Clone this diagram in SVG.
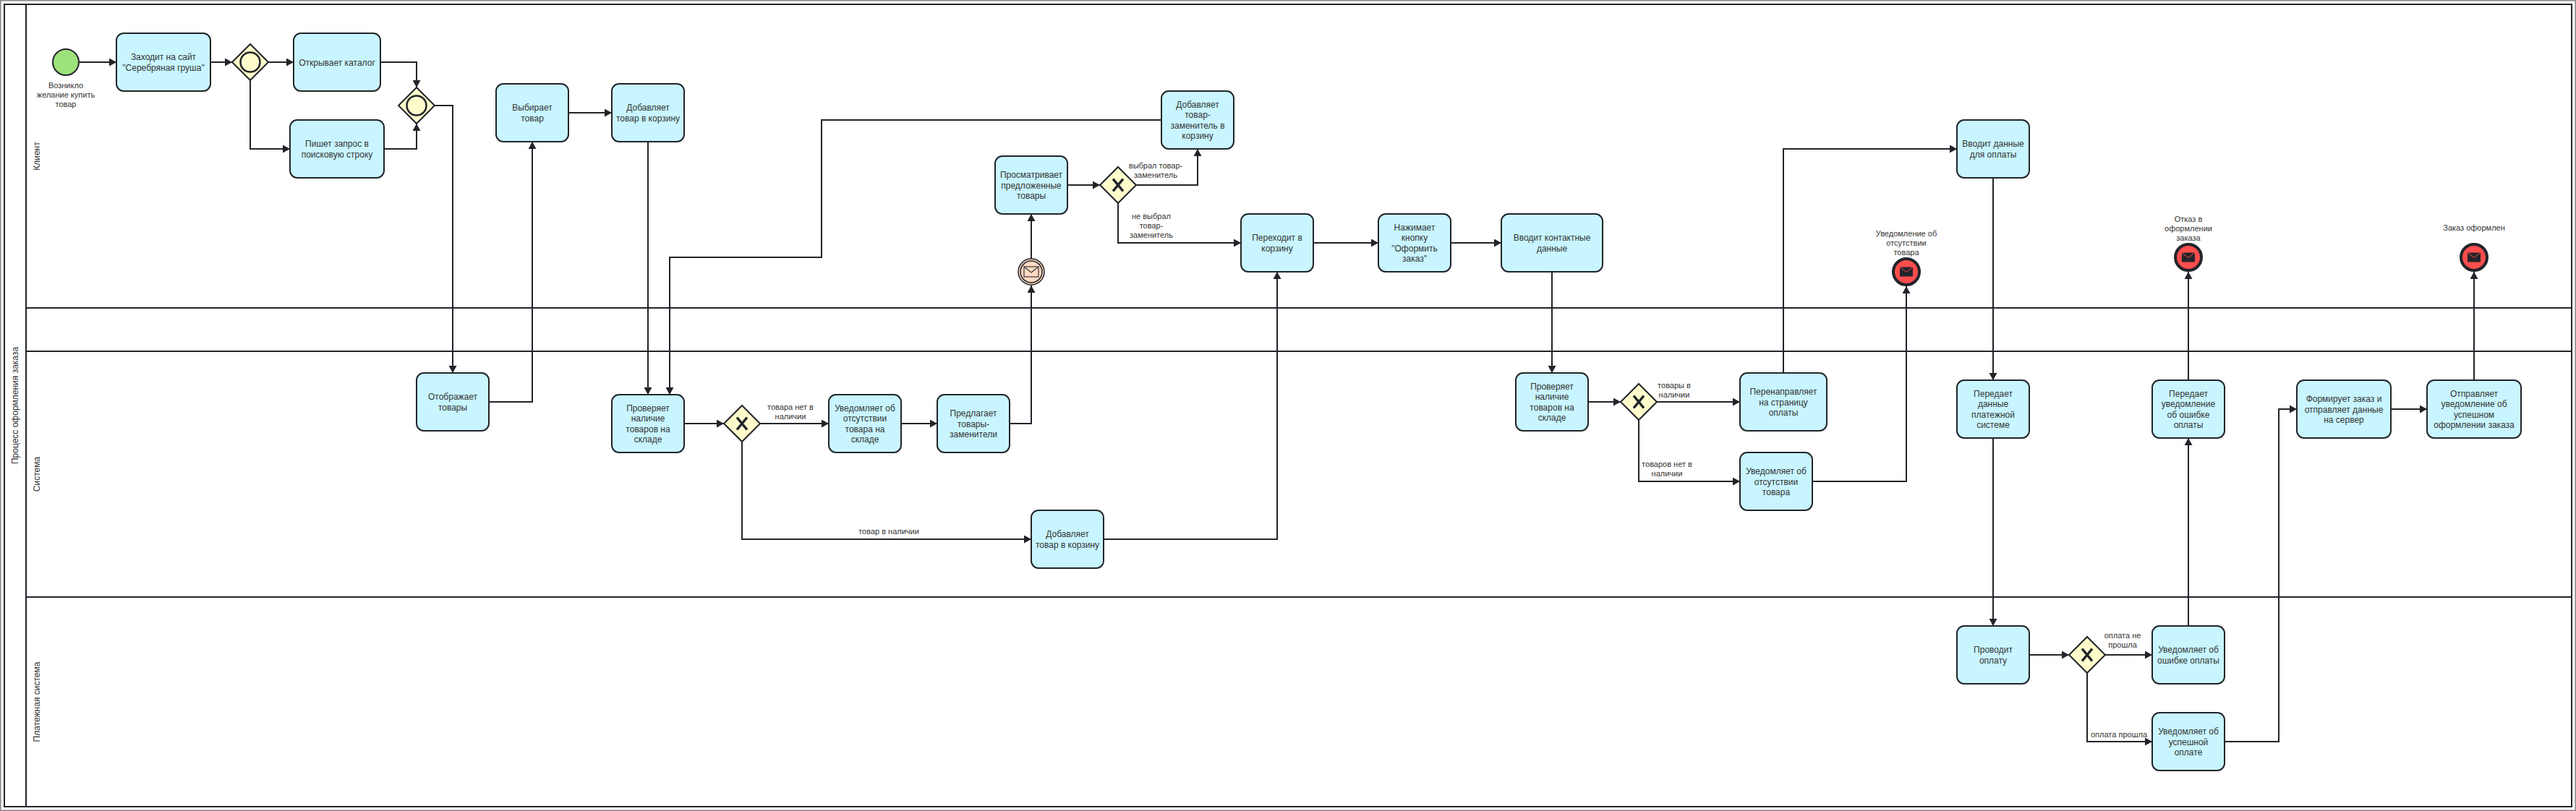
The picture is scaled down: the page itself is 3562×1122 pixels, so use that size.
<svg xmlns="http://www.w3.org/2000/svg" width="3562" height="1122" viewBox="0 0 3562 1122">
<style>
.lane{fill:none;stroke:#22242a;stroke-width:2}
.flow{fill:none;stroke:#22242a;stroke-width:2;marker-end:url(#arrow)}
.task{fill:#c8f5ff;stroke:#22242a;stroke-width:2}
.gw{fill:#fffccc;stroke:#22242a;stroke-width:2}
.ring{fill:#fffccc;stroke:#22242a;stroke-width:2.5}
.x{fill:none;stroke:#22242a;stroke-width:3.5}
.start{fill:#9de27a;stroke:#22242a;stroke-width:2}
.mid{fill:#ffd9c0;stroke:#22242a;stroke-width:1.5}
.midenv{fill:none;stroke:#33353b;stroke-width:1.2}
.end{fill:#ff4d4d;stroke:#22242a;stroke-width:4}
.endenv{fill:#22242a;stroke:none}
.endflap{fill:none;stroke:#ff4d4d;stroke-width:1}
text{font-family:"Liberation Sans",Arial,sans-serif;fill:#333;text-anchor:middle}
.t{font-size:12px}
.l{font-size:11px}
.s{font-size:12px}
</style>
<defs>
<marker id="arrow" markerUnits="userSpaceOnUse" markerWidth="10" markerHeight="11" refX="10" refY="5.5" orient="auto"><path d="M0 0L10 5.5L0 11Z" fill="#22242a"/></marker>
<path id="xm" class="x" d="M-7 -8.5L7 8.5M7 -8.5L-7 8.5"/>
<g id="envEnd"><rect class="endenv" x="-9" y="-6.5" width="18" height="13"/><path class="endflap" d="M-9 -6.5L0 0.5L9 -6.5"/></g>
</defs>
<rect x="0.75" y="0.75" width="3560.5" height="1120.5" fill="#fff" stroke="#888" stroke-width="1.5"/>
<g id="lanes">
<rect class="lane" x="6" y="6" width="3550" height="1110"/>
<path class="lane" d="M36 6V1116M36 426H3556M36 486H3556M36 826H3556"/>
<text class="s" transform="translate(25 561) rotate(-90)">Процесс оформления заказа</text>
<text class="s" transform="translate(55 216) rotate(-90)">Клиент</text>
<text class="s" transform="translate(55 656) rotate(-90)">Система</text>
<text class="s" transform="translate(55 971) rotate(-90)">Платежная система</text>
</g>
<g id="connectors">
<path class="flow" d="M109 86H161"/>
<path class="flow" d="M291 86H321"/>
<path class="flow" d="M371 86H406"/>
<path class="flow" d="M346 111V206H401"/>
<path class="flow" d="M526 86H576V121"/>
<path class="flow" d="M531 206H576V171"/>
<path class="flow" d="M601 146H626V516"/>
<path class="flow" d="M676 556H736V196"/>
<path class="flow" d="M786 156H846"/>
<path class="flow" d="M896 196V546"/>
<path class="flow" d="M1606 166H1136V356H926V546"/>
<path class="flow" d="M946 586H1001"/>
<path class="flow" d="M1051 586H1146"/>
<path class="flow" d="M1246 586H1296"/>
<path class="flow" d="M1396 586H1426V395"/>
<path class="flow" d="M1426 358V296"/>
<path class="flow" d="M1476 256H1521"/>
<path class="flow" d="M1571 256H1656V206"/>
<path class="flow" d="M1546 281V336H1716"/>
<path class="flow" d="M1026 611V746H1426"/>
<path class="flow" d="M1526 746H1766V376"/>
<path class="flow" d="M1816 336H1906"/>
<path class="flow" d="M2006 336H2076"/>
<path class="flow" d="M2146 376V516"/>
<path class="flow" d="M2196 556H2241"/>
<path class="flow" d="M2291 556H2406"/>
<path class="flow" d="M2266 581V666H2406"/>
<path class="flow" d="M2506 666H2636V396"/>
<path class="flow" d="M2466 516V206H2706"/>
<path class="flow" d="M2756 246V526"/>
<path class="flow" d="M2756 606V866"/>
<path class="flow" d="M2806 906H2861"/>
<path class="flow" d="M2911 906H2976"/>
<path class="flow" d="M2886 931V1026H2976"/>
<path class="flow" d="M3026 866V606"/>
<path class="flow" d="M3026 526V376"/>
<path class="flow" d="M3076 1026H3151V566H3176"/>
<path class="flow" d="M3306 566H3356"/>
<path class="flow" d="M3421 526V376"/>
</g>
<g id="conn-labels">
<text class="l" x="1093" y="567">товара нет в<tspan x="1093" dy="13">наличии</tspan></text>
<text class="l" x="1229" y="739">товар в наличии</text>
<text class="l" x="1598" y="233">выбрал товар-<tspan x="1598" dy="13">заменитель</tspan></text>
<text class="l" x="1592" y="303">не выбрал<tspan x="1592" dy="13">товар-</tspan><tspan x="1592" dy="13">заменитель</tspan></text>
<text class="l" x="2315" y="537">товары в<tspan x="2315" dy="13">наличии</tspan></text>
<text class="l" x="2305" y="646">товаров нет в<tspan x="2305" dy="13">наличии</tspan></text>
<text class="l" x="2935" y="883">оплата не<tspan x="2935" dy="13">прошла</tspan></text>
<text class="l" x="2930" y="1020">оплата прошла</text>
</g>
<g id="start"><circle class="start" cx="91" cy="86" r="18"/><text class="l" x="91" y="122">Возникло<tspan x="91" dy="13">желание купить</tspan><tspan x="91" dy="13">товар</tspan></text></g>
<g id="task-site"><rect class="task" x="161" y="46" width="130" height="80" rx="10"/><text class="t" x="226" y="83.25">Заходит на сайт<tspan x="226" dy="14.5">"Серебряная груша"</tspan></text></g>
<g id="gw-1"><path class="gw" d="M346 61L371 86L346 111L321 86Z"/><circle class="ring" cx="346" cy="86" r="13.5"/></g>
<g id="task-catalog"><rect class="task" x="406" y="46" width="120" height="80" rx="10"/><text class="t" x="466" y="90.5">Открывает каталог</text></g>
<g id="task-search"><rect class="task" x="401" y="166" width="130" height="80" rx="10"/><text class="t" x="466" y="203.25">Пишет запрос в<tspan x="466" dy="14.5">поисковую строку</tspan></text></g>
<g id="gw-2"><path class="gw" d="M576 121L601 146L576 171L551 146Z"/><circle class="ring" cx="576" cy="146" r="13.5"/></g>
<g id="task-select"><rect class="task" x="686" y="116" width="100" height="80" rx="10"/><text class="t" x="736" y="153.25">Выбирает<tspan x="736" dy="14.5">товар</tspan></text></g>
<g id="task-add"><rect class="task" x="846" y="116" width="100" height="80" rx="10"/><text class="t" x="896" y="153.25">Добавляет<tspan x="896" dy="14.5">товар в корзину</tspan></text></g>
<g id="task-show"><rect class="task" x="576" y="516" width="100" height="80" rx="10"/><text class="t" x="626" y="553.25">Отображает<tspan x="626" dy="14.5">товары</tspan></text></g>
<g id="task-check1"><rect class="task" x="846" y="546" width="100" height="80" rx="10"/><text class="t" x="896" y="568.75">Проверяет<tspan x="896" dy="14.5">наличие</tspan><tspan x="896" dy="14.5">товаров на</tspan><tspan x="896" dy="14.5">складе</tspan></text></g>
<g id="gw-3"><path class="gw" d="M1026 561L1051 586L1026 611L1001 586Z"/><use href="#xm" x="1026" y="586"/></g>
<g id="task-notify1"><rect class="task" x="1146" y="546" width="100" height="80" rx="10"/><text class="t" x="1196" y="568.75">Уведомляет об<tspan x="1196" dy="14.5">отсутствии</tspan><tspan x="1196" dy="14.5">товара на</tspan><tspan x="1196" dy="14.5">складе</tspan></text></g>
<g id="task-offer"><rect class="task" x="1296" y="546" width="100" height="80" rx="10"/><text class="t" x="1346" y="576">Предлагает<tspan x="1346" dy="14.5">товары-</tspan><tspan x="1346" dy="14.5">заменители</tspan></text></g>
<g id="task-add2"><rect class="task" x="1426" y="706" width="100" height="80" rx="10"/><text class="t" x="1476" y="743.25">Добавляет<tspan x="1476" dy="14.5">товар в корзину</tspan></text></g>
<g id="event-msg"><circle class="mid" cx="1426" cy="376" r="18"/><circle class="mid" cx="1426" cy="376" r="15"/><rect class="midenv" x="1416" y="369" width="20" height="14"/><path class="midenv" d="M1416 369L1426 377L1436 369"/></g>
<g id="task-browse"><rect class="task" x="1376" y="216" width="100" height="80" rx="10"/><text class="t" x="1426" y="246">Просматривает<tspan x="1426" dy="14.5">предложенные</tspan><tspan x="1426" dy="14.5">товары</tspan></text></g>
<g id="gw-4"><path class="gw" d="M1546 231L1571 256L1546 281L1521 256Z"/><use href="#xm" x="1546" y="256"/></g>
<g id="task-add3"><rect class="task" x="1606" y="126" width="100" height="80" rx="10"/><text class="t" x="1656" y="148.75">Добавляет<tspan x="1656" dy="14.5">товар-</tspan><tspan x="1656" dy="14.5">заменитель в</tspan><tspan x="1656" dy="14.5">корзину</tspan></text></g>
<g id="task-cart"><rect class="task" x="1716" y="296" width="100" height="80" rx="10"/><text class="t" x="1766" y="333.25">Переходит в<tspan x="1766" dy="14.5">корзину</tspan></text></g>
<g id="task-button"><rect class="task" x="1906" y="296" width="100" height="80" rx="10"/><text class="t" x="1956" y="318.75">Нажимает<tspan x="1956" dy="14.5">кнопку</tspan><tspan x="1956" dy="14.5">"Оформить</tspan><tspan x="1956" dy="14.5">заказ"</tspan></text></g>
<g id="task-contact"><rect class="task" x="2076" y="296" width="140" height="80" rx="10"/><text class="t" x="2146" y="333.25">Вводит контактные<tspan x="2146" dy="14.5">данные</tspan></text></g>
<g id="task-check2"><rect class="task" x="2096" y="516" width="100" height="80" rx="10"/><text class="t" x="2146" y="538.75">Проверяет<tspan x="2146" dy="14.5">наличие</tspan><tspan x="2146" dy="14.5">товаров на</tspan><tspan x="2146" dy="14.5">складе</tspan></text></g>
<g id="gw-5"><path class="gw" d="M2266 531L2291 556L2266 581L2241 556Z"/><use href="#xm" x="2266" y="556"/></g>
<g id="task-redirect"><rect class="task" x="2406" y="516" width="120" height="80" rx="10"/><text class="t" x="2466" y="546">Перенаправляет<tspan x="2466" dy="14.5">на страницу</tspan><tspan x="2466" dy="14.5">оплаты</tspan></text></g>
<g id="task-notify2"><rect class="task" x="2406" y="626" width="100" height="80" rx="10"/><text class="t" x="2456" y="656">Уведомляет об<tspan x="2456" dy="14.5">отсутствии</tspan><tspan x="2456" dy="14.5">товара</tspan></text></g>
<g id="end-1"><circle class="end" cx="2636" cy="376" r="18"/><use href="#envEnd" x="2636" y="376"/><text class="l" x="2636" y="327">Уведомление об<tspan x="2636" dy="13">отсутствии</tspan><tspan x="2636" dy="13">товара</tspan></text></g>
<g id="task-pay"><rect class="task" x="2706" y="166" width="100" height="80" rx="10"/><text class="t" x="2756" y="203.25">Вводит данные<tspan x="2756" dy="14.5">для оплаты</tspan></text></g>
<g id="task-pass"><rect class="task" x="2706" y="526" width="100" height="80" rx="10"/><text class="t" x="2756" y="548.75">Передает<tspan x="2756" dy="14.5">данные</tspan><tspan x="2756" dy="14.5">платежной</tspan><tspan x="2756" dy="14.5">системе</tspan></text></g>
<g id="task-process"><rect class="task" x="2706" y="866" width="100" height="80" rx="10"/><text class="t" x="2756" y="903.25">Проводит<tspan x="2756" dy="14.5">оплату</tspan></text></g>
<g id="gw-6"><path class="gw" d="M2886 881L2911 906L2886 931L2861 906Z"/><use href="#xm" x="2886" y="906"/></g>
<g id="task-payerr"><rect class="task" x="2976" y="866" width="100" height="80" rx="10"/><text class="t" x="3026" y="903.25">Уведомляет об<tspan x="3026" dy="14.5">ошибке оплаты</tspan></text></g>
<g id="task-payok"><rect class="task" x="2976" y="986" width="100" height="80" rx="10"/><text class="t" x="3026" y="1016">Уведомляет об<tspan x="3026" dy="14.5">успешной</tspan><tspan x="3026" dy="14.5">оплате</tspan></text></g>
<g id="task-errnotice"><rect class="task" x="2976" y="526" width="100" height="80" rx="10"/><text class="t" x="3026" y="548.75">Передает<tspan x="3026" dy="14.5">уведомление</tspan><tspan x="3026" dy="14.5">об ошибке</tspan><tspan x="3026" dy="14.5">оплаты</tspan></text></g>
<g id="end-2"><circle class="end" cx="3026" cy="356" r="18"/><use href="#envEnd" x="3026" y="356"/><text class="l" x="3026" y="307">Отказ в<tspan x="3026" dy="13">оформлении</tspan><tspan x="3026" dy="13">заказа</tspan></text></g>
<g id="task-form"><rect class="task" x="3176" y="526" width="130" height="80" rx="10"/><text class="t" x="3241" y="556">Формирует заказ и<tspan x="3241" dy="14.5">отправляет данные</tspan><tspan x="3241" dy="14.5">на сервер</tspan></text></g>
<g id="task-sendok"><rect class="task" x="3356" y="526" width="130" height="80" rx="10"/><text class="t" x="3421" y="548.75">Отправляет<tspan x="3421" dy="14.5">уведомление об</tspan><tspan x="3421" dy="14.5">успешном</tspan><tspan x="3421" dy="14.5">оформлении заказа</tspan></text></g>
<g id="end-3"><circle class="end" cx="3421" cy="356" r="18"/><use href="#envEnd" x="3421" y="356"/><text class="l" x="3421" y="318.5">Заказ оформлен</text></g>
</svg>
